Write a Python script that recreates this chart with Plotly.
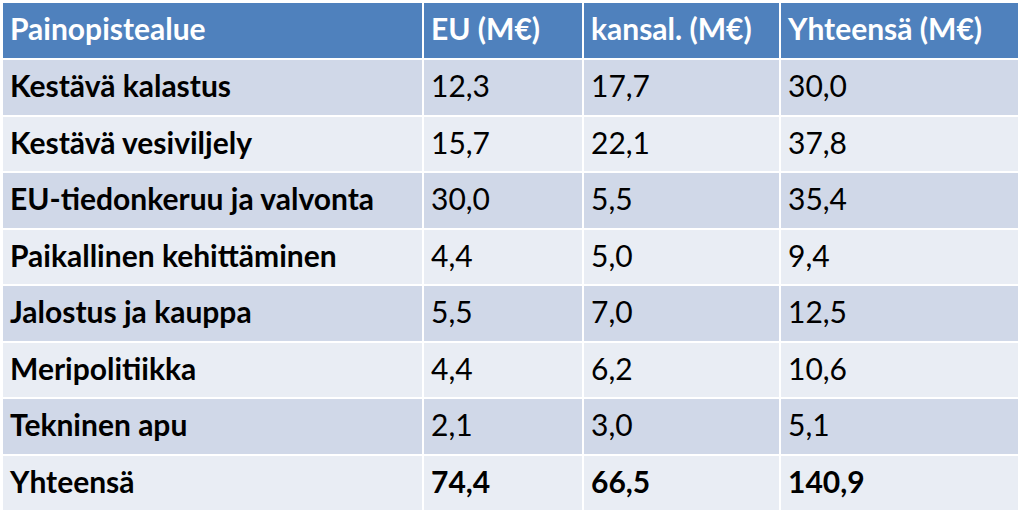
import plotly.graph_objects as go

headers = ['Painopistealue', 'EU (M€)', 'kansal. (M€)', 'Yhteensä (M€)']
areas = ['Kestävä kalastus', 'Kestävä vesiviljely', 'EU-tiedonkeruu ja valvonta',
         'Paikallinen kehittäminen', 'Jalostus ja kauppa', 'Meripolitiikka',
         'Tekninen apu', 'Yhteensä']
eu = [12.3, 15.7, 30.0, 4.4, 5.5, 4.4, 2.1, 74.4]
kansal = [17.7, 22.1, 5.5, 5.0, 7.0, 6.2, 3.0, 66.5]
yht = [30.0, 37.8, 35.4, 9.4, 12.5, 10.6, 5.1, 140.9]


def fmt(v, bold=False):
    s = ('%.1f' % v).replace('.', ',')
    # wrap in a tag so all cells get the same vertical placement
    return '<b>%s</b>' % s if bold else '<span>%s</span>' % s


n = len(areas)
col0 = ['<b>%s</b>' % a for a in areas]
cols = [col0] + [[fmt(v, i == n - 1) for i, v in enumerate(c)] for c in (eu, kansal, yht)]

row_colors = ['#D0D8E8' if i % 2 == 0 else '#E9EDF4' for i in range(n)]

fig = go.Figure(go.Table(
    columnwidth=[421, 160, 197, 239],
    header=dict(
        values=['<b>%s</b>' % h for h in headers],
        fill_color='#4F81BD',
        line=dict(color='white', width=2),
        align='left',
        font=dict(family='Lato', size=30, color='white'),
        height=57,
    ),
    cells=dict(
        values=cols,
        fill_color=[row_colors] * 4,
        line=dict(color='white', width=2),
        align='left',
        font=dict(family='Lato', size=30, color='black'),
        height=56.5,
    ),
))

fig.update_layout(
    width=1023, height=525,
    margin=dict(l=2, r=4, t=2, b=0),
    paper_bgcolor='white',
)

fig.write_html("out.html", config={'displayModeBar': False},
               post_script="document.body.style.margin='0';")
